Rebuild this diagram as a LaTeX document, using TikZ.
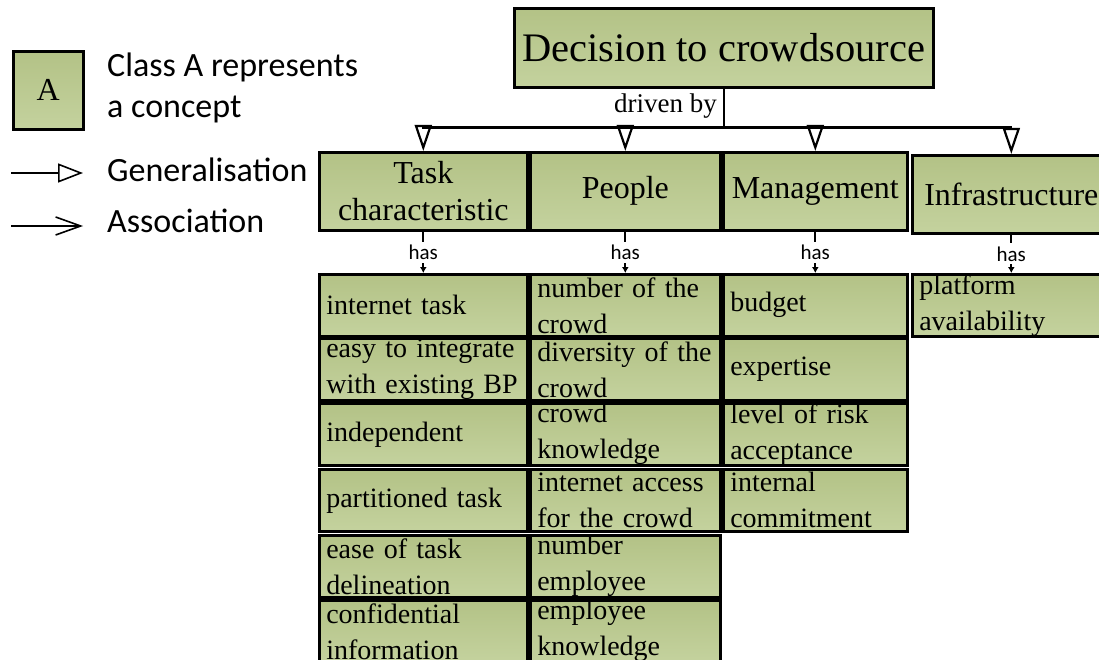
\documentclass[tikz,border=0pt]{standalone}
\usepackage{fontspec}
\setmainfont{Liberation Serif}
\newfontfamily\calibri{Carlito}
\usetikzlibrary{arrows.meta}

\definecolor{boxtop}{RGB}{179,194,134}
\definecolor{boxbot}{RGB}{196,210,158}

\newcommand\decfont{\fontsize{40.5}{44}\selectfont}
\newcommand\midfont{\fontsize{32}{37}\selectfont}
\newcommand\leaffont{\fontsize{28}{36}\selectfont}
\newcommand\lblfont{\fontsize{27}{30}\selectfont}
\newcommand\legfont{\calibri\fontsize{34}{41}\selectfont}
\newcommand\hasfont{\calibri\fontsize{21}{24}\selectfont}

\tikzset{
  concept/.style={rectangle, draw=black, line width=2.6pt,
    top color=boxtop, bottom color=boxbot, inner sep=0pt, anchor=north west},
  classbox/.style={concept, align=center, font=\midfont, minimum height=78pt},
  leaf/.style={concept, align=left, inner xsep=7pt, inner ysep=0pt,
    minimum height=62pt, font=\leaffont},
  conn/.style={line width=2.2pt, black},
  gentip/.style={-{Triangle[open, length=26pt, width=17pt, line width=2.2pt]}},
  hasline/.style={line width=1.8pt, black, -{Latex[length=6pt, width=7pt]}},
  haslab/.style={fill=white, font=\hasfont, inner xsep=1pt, inner ysep=3pt},
}

\begin{document}
\begin{tikzpicture}[x=1pt, y=-1pt]
\useasboundingbox (0,0) rectangle (1099,660);

% ---- legend ----
\node[concept, minimum width=70pt, minimum height=78pt,
      font=\fontsize{32}{36}\selectfont] (lgA) at (12,50) {A};
\node[anchor=north west, align=left, font=\legfont, inner sep=0pt]
      (lgAtext) at (107,53) {Class A represents\\a concept};
\coordinate (gs) at (11,173);
\coordinate (ge) at (83,173);
\draw[line width=1.6pt, -{Triangle[open, length=25pt, width=19pt, line width=1.6pt]}] (gs) -- (ge);
\node[anchor=base west, font=\legfont, inner sep=0pt] (lgGen) at (107,182) {Generalisation};
\coordinate (as) at (11,226);
\coordinate (ae) at (83,226);
\draw[line width=1.6pt, -{Straight Barb[length=25pt, width=18pt, line width=1.6pt]}] (as) -- (ae);
\node[anchor=base west, font=\legfont, inner sep=0pt] (lgAss) at (107,233) {Association};

% ---- root ----
\node[concept, minimum width=419pt, minimum height=79pt, font=\decfont]
      (dec) at (513,7) {Decision to crowdsource};

% ---- second level ----
\node[classbox, minimum width=208pt] (task)   at (318,151) {Task\\characteristic};
\node[classbox, minimum width=190pt] (people) at (529,151) {People};
\node[classbox, minimum width=184pt] (mgmt)   at (722,151) {Management};
\node[classbox, minimum width=198pt] (infra)  at (911,154) {Infrastructure};

% ---- generalisation bus ----
\path (dec.south) ++(0,39) coordinate (bus);
\draw[conn] (dec.south) -- (bus);
\node[anchor=base east, font=\lblfont, inner sep=0pt] (drv) at (717,113) {driven by};
\draw[conn, gentip] (bus) -| (task.north);
\draw[conn, gentip] (bus) -| (people.north);
\draw[conn, gentip] (bus) -| (mgmt.north);
\draw[conn, gentip] (bus) -| (infra.north);

% ---- task characteristic ----
\node[leaf, text width=194pt] (t1) at (318,273) {internet task};
\node[leaf, text width=194pt] (t2) at (318,337) {easy to integrate\\with existing BP};
\node[leaf, text width=194pt] (t3) at (318,402) {independent};
\node[leaf, text width=194pt] (t4) at (318,468) {partitioned task};
\node[leaf, text width=194pt] (t5) at (318,534) {ease of task\\delineation};
\node[leaf, text width=194pt] (t6) at (318,599) {confidential\\information};

% ---- people ----
\node[leaf, text width=176pt] (p1) at (529,273) {number of the\\crowd};
\node[leaf, text width=176pt] (p2) at (529,337) {diversity of the\\crowd};
\node[leaf, text width=176pt] (p3) at (529,402) {crowd\\knowledge};
\node[leaf, text width=176pt] (p4) at (529,468) {internet access\\for the crowd};
\node[leaf, text width=176pt] (p5) at (529,534) {number\\employee};
\node[leaf, text width=176pt] (p6) at (529,599) {employee\\knowledge};

% ---- management ----
\node[leaf, text width=170pt] (m1) at (722,273) {budget};
\node[leaf, text width=170pt] (m2) at (722,337) {expertise};
\node[leaf, text width=170pt] (m3) at (722,402) {level of risk\\acceptance};
\node[leaf, text width=170pt] (m4) at (722,468) {internal\\commitment};

% ---- infrastructure ----
\node[leaf, text width=184pt] (i1) at (911,273) {platform\\availability};

% ---- associations ----
\draw[hasline] (task.south)   -- node[haslab] {has} (t1.north);
\draw[hasline] (people.south) -- node[haslab] {has} (p1.north);
\draw[hasline] (mgmt.south)   -- node[haslab] {has} (m1.north);
\draw[hasline] (infra.south)  -- node[haslab] {has} (i1.north);
\end{tikzpicture}
\end{document}
